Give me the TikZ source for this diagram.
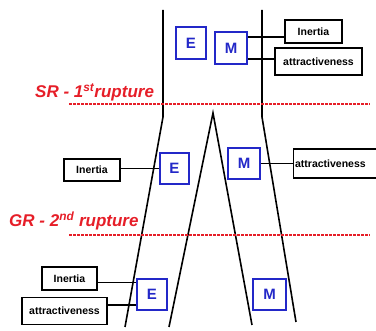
\documentclass[tikz,border=0pt]{standalone}
\usepackage{fontspec}
\setmainfont{Liberation Sans}
\definecolor{rred}{RGB}{230,30,40}
\definecolor{bblue}{RGB}{35,40,200}
\begin{document}
\begin{tikzpicture}[x=1pt,y=-1pt,
 lbl/.style={draw=black, fill=white, line width=1.3pt, inner sep=0pt, font=\bfseries\fontsize{10.5}{12}\selectfont},
 emb/.style={draw=bblue, fill=white, line width=1.4pt, inner sep=0pt, font=\bfseries\fontsize{15}{16}\selectfont, text=bblue},
 wall/.style={line width=1.6pt, black},
 conn/.style={line width=1.3pt},
 rupt/.style={rred, line width=1.5pt, dash pattern=on 2.5pt off 1.5pt},
 rtext/.style={text=rred, font=\bfseries\itshape\fontsize{17}{19}\selectfont, inner sep=0pt}]
\useasboundingbox (0,0) rectangle (376,331);
% walls
\coordinate (lt) at (163,10); \coordinate (lk) at (163,117); \coordinate (lb) at (125,327);
\coordinate (rt) at (262,10); \coordinate (rk) at (262,117); \coordinate (rb) at (296,322);
\coordinate (ap) at (213,113); \coordinate (il) at (169,327); \coordinate (ir) at (252,325);
\draw[wall] (lt) -- (lk) -- (lb);
\draw[wall] (rt) -- (rk) -- (rb);
\draw[wall] (il) -- (ap) -- (ir);
% ruptures
\coordinate (s1) at (69,104); \coordinate (s2) at (370,104);
\coordinate (g1) at (69,235); \coordinate (g2) at (370,235);
\draw[rupt] (s1) -- (s2);
\draw[rupt] (g1) -- (g2);
\node[rtext, anchor=base west] (sr) at (35,98) {SR - 1\textsuperscript{st}rupture};
\node[rtext, anchor=base west] (gr) at (9,227) {GR - 2\textsuperscript{nd} rupture};
% top
\node[emb, minimum width=30pt, minimum height=32pt] (e1) at (191,43) {E};
\node[emb, minimum width=32pt, minimum height=32pt] (m1) at (231,48) {M};
\node[lbl, minimum width=57pt, minimum height=23pt] (i1) at (313.5,31.5) {Inertia};
\node[lbl, minimum width=87pt, minimum height=27pt] (a1) at (318.5,61.5) {attractiveness};
\draw[conn] ([yshift=11pt]m1.east) -- ([yshift=11pt]m1.east -| i1.west);
\draw[conn] ([yshift=-11pt]m1.east) -- ([yshift=-11pt]m1.east -| a1.west);
% middle
\node[lbl, minimum width=56pt, minimum height=22pt] (i2) at (92,170) {Inertia};
\node[emb, minimum width=29pt, minimum height=31pt] (e2) at (174.5,168.5) {E};
\node[emb, minimum width=32pt, minimum height=31pt] (m2) at (244,163.5) {M};
\node[lbl, anchor=west, minimum height=29pt, text width=88pt, align=left, inner xsep=1.5pt] (a2) at (293,163.5) {attractiveness};
\draw[conn] (e2.west) -- (e2.west -| i2.east);
\draw[conn] (m2.east) -- (m2.east -| a2.west);
% bottom
\node[lbl, minimum width=55pt, minimum height=23pt] (i3) at (69.5,278.5) {Inertia};
\node[lbl, minimum width=85pt, minimum height=27pt] (a3) at (64.5,311) {attractiveness};
\node[emb, minimum width=30pt, minimum height=31pt] (e3) at (152,294.5) {E};
\node[emb, minimum width=33pt, minimum height=31pt] (m3) at (269.5,294.5) {M};
\draw[conn] ([yshift=-4pt]i3.east) -- ([yshift=-4pt]i3.east -| e3.west);
\draw[conn] ([yshift=6pt]a3.east) -- ([yshift=6pt]a3.east -| e3.west);
\end{tikzpicture}
\end{document}
